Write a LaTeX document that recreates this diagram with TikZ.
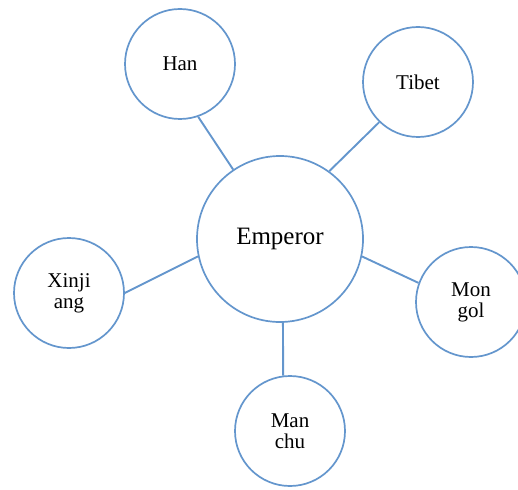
\documentclass[tikz,border=0pt]{standalone}
\usepackage{fontspec}
\setmainfont{Liberation Serif}
\definecolor{ringblue}{RGB}{100,150,205}
\begin{document}
\begin{tikzpicture}[x=1pt,y=-1pt,
  bubble/.style={circle, draw=ringblue, line width=1.7pt, fill=white, minimum size=110pt, inner sep=0pt, align=center, font=\fontsize{21}{21}\selectfont},
  hub/.style={circle, draw=ringblue, line width=1.7pt, fill=white, minimum size=166pt, inner sep=0pt, font=\fontsize{25}{27}\selectfont},
  link/.style={draw=ringblue, line width=1.9pt}]
\useasboundingbox (0,0) rectangle (518,489);
\begin{scope}
\clip (0,0) rectangle (518,489);
\node[hub] (emp) at (280,239) {Emperor};
\node[bubble] (han) at (180,64) {Han};
\node[bubble] (tib) at (418,82) {Tibet};
\node[bubble] (xin) at (69,293) {Xinji\\ang};
\node[bubble] (mon) at (471,302) {Mon\\gol};
\node[bubble] (man) at (290,431) {Man\\chu};
\draw[link] (han.-71) -- (emp.124);
\draw[link] (tib.226) -- (emp.54);
\draw[link] (xin.0) -- (emp.192);
\draw[link] (mon.160) -- (emp.-12);
\draw[link] (man.97) -- (emp.-88);
\end{scope}
\end{tikzpicture}
\end{document}
